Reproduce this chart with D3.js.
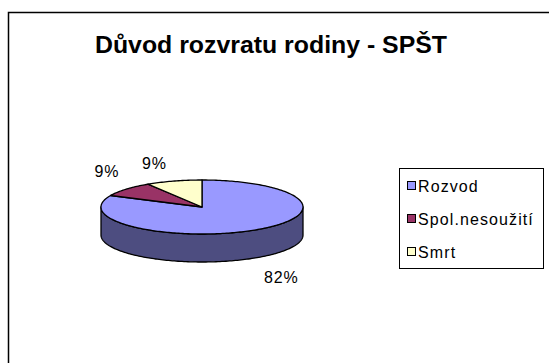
<!DOCTYPE html>
<html>
<head>
<meta charset="utf-8">
<script src="https://cdn.jsdelivr.net/npm/d3@7"></script>
<style>
  html, body { margin: 0; padding: 0; background: #fff; }
  svg { display: block; font-family: "Liberation Sans", Arial, sans-serif; }
</style>
</head>
<body>
<svg id="chart" width="549" height="363"></svg>
<script>
// Důvod rozvratu rodiny - SPŠT
const title = "Důvod rozvratu rodiny - SPŠT";
const categories = ["Rozvod", "Spol.nesoužití", "Smrt"];
const values = [82, 9, 9];
const topColors = ["#9999FF", "#993366", "#FFFFCC"];
const sideColors = ["#4D4D80", "#4D1A33", "#808066"];

const svg = d3.select("#chart");

// outer chart frame (runs past the window on the right and bottom)
svg.append("rect")
  .attr("x", 8.5).attr("y", 12.5)
  .attr("width", 600).attr("height", 400)
  .attr("fill", "#fff").attr("stroke", "#000").attr("stroke-width", 1.5);

svg.append("text")
  .attr("x", 271).attr("y", 53)
  .attr("text-anchor", "middle")
  .attr("font-weight", "bold")
  .attr("font-size", 24)
  .attr("textLength", 352)
  .attr("lengthAdjust", "spacingAndGlyphs")
  .text(title);

// 3D pie geometry
const cx = 202, cy = 207, rx = 101, ry = 27, depth = 28;
const pt = (a, dy = 0) => [cx + rx * Math.sin(a), cy - ry * Math.cos(a) + dy];

const pie = d3.pie().sort(null).startAngle(0).endAngle(2 * Math.PI);
const arcs = pie(values);

function arcPoints(a0, a1, dy) {
  const n = Math.max(2, Math.ceil(Math.abs(a1 - a0) / 0.02));
  return d3.range(n + 1).map(i => pt(a0 + (a1 - a0) * i / n, dy));
}

const line = d3.line();
const g = svg.append("g");

// visible side walls: the front half of the ellipse (90° .. 270°)
arcs.forEach((d, i) => {
  const a0 = Math.max(d.startAngle, Math.PI / 2);
  const a1 = Math.min(d.endAngle, 3 * Math.PI / 2);
  if (a1 <= a0) return;
  const pts = arcPoints(a0, a1, 0).concat(arcPoints(a1, a0, depth));
  g.append("path")
    .attr("d", line(pts) + "Z")
    .attr("fill", sideColors[i])
    .attr("stroke", "#000").attr("stroke-width", 1.3)
    .attr("stroke-linejoin", "round");
});

// top faces
arcs.forEach((d, i) => {
  const pts = [[cx, cy]].concat(arcPoints(d.startAngle, d.endAngle, 0));
  g.append("path")
    .attr("d", line(pts) + "Z")
    .attr("fill", topColors[i])
    .attr("stroke", "#000").attr("stroke-width", 1.3)
    .attr("stroke-linejoin", "round");
});

// percentage labels placed just outside each slice
const fmt = v => Math.round(v) + "%";
const total = d3.sum(values);
arcs.forEach((d, i) => {
  const mid = (d.startAngle + d.endAngle) / 2;
  const s = Math.sin(mid), c = Math.cos(mid);
  const front = c < 0;
  const [ex, ey] = pt(mid, front ? depth : 0);
  svg.append("text")
    .attr("x", ex + (s >= 0 ? 8 : -7))
    .attr("y", front ? ey + 25 : ey - 12)
    .attr("text-anchor", s >= 0 ? "start" : "end")
    .attr("font-size", 16)
    .attr("letter-spacing", 0.8)
    .attr("fill", "#000")
    .text(fmt(values[i] / total * 100));
});

// legend
const lg = svg.append("g");
lg.append("rect")
  .attr("x", 399.5).attr("y", 168.5)
  .attr("width", 144).attr("height", 100)
  .attr("fill", "#fff").attr("stroke", "#000").attr("stroke-width", 1);

categories.forEach((name, i) => {
  const base = 192 + i * 33;
  lg.append("rect")
    .attr("x", 407.5).attr("y", base - 10.5)
    .attr("width", 8).attr("height", 8)
    .attr("fill", topColors[i]).attr("stroke", "#000").attr("stroke-width", 1);
  lg.append("text")
    .attr("x", 418).attr("y", base)
    .attr("font-size", 16)
    .attr("letter-spacing", 1.1)
    .text(name);
});
</script>
</body>
</html>
